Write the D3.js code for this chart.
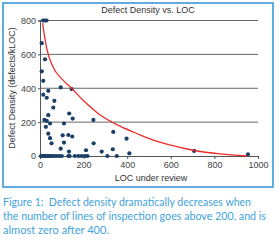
<!DOCTYPE html>
<html>
<head>
<meta charset="utf-8">
<script src="https://cdn.jsdelivr.net/npm/d3@7"></script>
<style>
  body { margin: 0; background: #fff; }
</style>
</head>
<body>
<script>
// Defect density vs LOC scatter

// scatter points (LOC, defects/kLOC)
const locValues = [14, 22, 30, 8, 23, 8, 15, 15, 31, 38, 95, 145, 66, 61, 38, 20, 31, 46, 27,
  134, 150, 110, 245, 38, 46, 53, 104, 130, 148, 110, 95, 133, 211, 246, 283, 336, 334, 397, 410, 707, 954,
  5, 10, 16, 22, 28, 34, 40, 47, 55, 64, 75, 88, 100, 130, 136, 160, 176, 191, 206, 218, 309, 352];
const densityValues = [800, 800, 800, 666, 571, 500, 444, 362, 344, 385, 405, 395, 326, 286, 241, 213, 207, 192, 172,
  251, 221, 192, 213, 132, 105, 75, 122, 124, 115, 79, 43, 26, 34, 75, 26, 142, 40, 102, 16, 30, 10,
  0, 0, 0, 0, 0, 0, 0, 0, 0, 0, 0, 0, 0, 0, 0, 0, 0, 0, 0, 0, 0, 0];

// trend line readings
const trendLoc = [12, 30, 61, 100, 145, 200, 268, 367, 459, 520, 600, 703, 826, 950];
const trendDensity = [785, 640, 522, 455, 400, 326, 250, 176, 125, 94, 64, 34, 12, 0];

const xTicks = [0, 200, 400, 600, 800, 1000];
const yTicks = [0, 200, 400, 600, 800];

const captionLines = [
  'Figure 1:  Defect density dramatically decreases when',
  'the number of lines of inspection goes above 200, and is',
  'almost zero after 400.'
];
const captionWidths = [248, 263, 106];

const width = 280;
const height = 244;
const margin = ({top: 20.5, right: 22, bottom: 88, left: 40});

const points = locValues.map((d, i) => ({x: d, y: densityValues[i]}));
const trend = trendLoc.map((d, i) => ({x: d, y: trendDensity[i]}));

const xScale = d3.scaleLinear()
  .domain([0, 1000])
  .range([margin.left, width - margin.right]);

const yScale = d3.scaleLinear()
  .domain([0, 800])
  .range([height - margin.bottom, margin.top]);

const svg = d3.select('body')
  .append('svg')
  .attr('width', width)
  .attr('height', height)
  .style('font-family', '"Liberation Sans", Arial, sans-serif');

// blue frame round the chart
svg.append('rect')
  .attr('x', 3)
  .attr('y', 3)
  .attr('width', 270)
  .attr('height', 184)
  .attr('fill', 'none')
  .attr('stroke', '#2b93d6')
  .attr('stroke-width', 1.5);

// gridlines
svg.append('g')
  .selectAll('line')
  .data(yTicks.filter(d => d > 0))
  .join('line')
  .attr('x1', xScale(0))
  .attr('x2', xScale(1000))
  .attr('y1', d => yScale(d))
  .attr('y2', d => yScale(d))
  .attr('stroke', '#666')
  .attr('stroke-width', 1);

// Y axis
const yAxis = d3.axisLeft(yScale).tickValues(yTicks).tickSize(2).tickPadding(2);
const gy = svg.append('g')
  .attr('transform', `translate(${margin.left},0)`)
  .call(yAxis);

// X axis
const xAxis = d3.axisBottom(xScale).tickValues(xTicks).tickFormat(d3.format('d')).tickSize(3).tickPadding(3);
const gx = svg.append('g')
  .attr('transform', `translate(0,${height - margin.bottom})`)
  .call(xAxis);

[gx, gy].forEach(g => {
  g.select('.domain').attr('stroke', '#555');
  g.selectAll('.tick line').attr('stroke', '#555');
  g.selectAll('text')
    .attr('fill', '#444')
    .style('font-size', '9px')
    .style('font-family', '"Liberation Sans", Arial, sans-serif');
});

// points
svg.append('g')
  .selectAll('circle')
  .data(points)
  .join('circle')
  .attr('cx', d => xScale(d.x))
  .attr('cy', d => yScale(d.y))
  .attr('r', 2.1)
  .attr('fill', '#1b3f66');

// trend line
const line = d3.line()
  .x(d => xScale(d.x))
  .y(d => yScale(d.y))
  .curve(d3.curveMonotoneX);

svg.append('path')
  .datum(trend)
  .attr('d', line)
  .attr('fill', 'none')
  .attr('stroke', '#ee2b2b')
  .attr('stroke-width', 1.3);

// title and axis labels
svg.append('text')
  .attr('x', 148)
  .attr('y', 13)
  .attr('text-anchor', 'middle')
  .attr('font-size', 9)
  .attr('fill', '#333')
  .text('Defect Density vs. LOC');

svg.append('text')
  .attr('x', 151)
  .attr('y', 181)
  .attr('text-anchor', 'middle')
  .attr('font-size', 9)
  .attr('fill', '#333')
  .text('LOC under review');

svg.append('text')
  .attr('transform', 'translate(15,88) rotate(-90)')
  .attr('text-anchor', 'middle')
  .attr('font-size', 9)
  .attr('fill', '#333')
  .text('Defect Density (defects/kLOC)');

// caption
svg.append('g')
  .selectAll('text')
  .data(captionLines)
  .join('text')
  .attr('x', 3)
  .attr('y', (d, i) => 206 + i * 14)
  .attr('font-family', 'Lato, "Open Sans", sans-serif')
  .attr('font-size', 11)
  .attr('fill', '#3fa3dc')
  .attr('textLength', (d, i) => captionWidths[i])
  .attr('lengthAdjust', 'spacingAndGlyphs')
  .style('white-space', 'pre')
  .text(d => d);
</script>
</body>
</html>
